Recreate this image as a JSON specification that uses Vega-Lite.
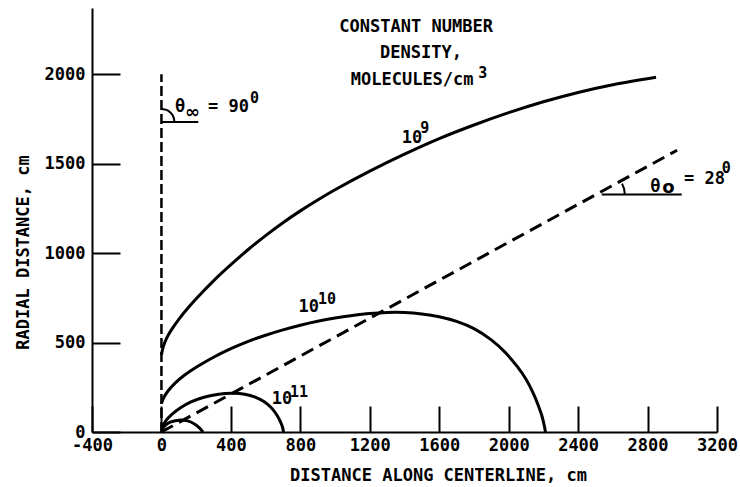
{
  "$schema": "https://vega.github.io/schema/vega-lite/v6.json",
  "width": 625,
  "height": 424,
  "autosize": {"type": "none"},
  "padding": {"left": 92, "top": 8, "right": 23, "bottom": 55},
  "background": "white",
  "config": {
    "view": {"stroke": null},
    "font": "DejaVu Sans Mono",
    "axis": {
      "grid": false,
      "domainColor": "black",
      "domainWidth": 2,
      "tickColor": "black",
      "tickWidth": 2,
      "labelColor": "black",
      "labelFont": "DejaVu Sans Mono",
      "labelFontSize": 17,
      "labelFontWeight": "bold",
      "titleFont": "DejaVu Sans Mono",
      "titleFontSize": 17,
      "titleFontWeight": "bold",
      "titleColor": "black"
    }
  },
  "datasets": {
    "curves": [
      {"s": "1e9", "i": 0, "x": 0, "y": 430},
      {"s": "1e9", "i": 1, "x": 10, "y": 475},
      {"s": "1e9", "i": 2, "x": 30, "y": 525},
      {"s": "1e9", "i": 3, "x": 60, "y": 575},
      {"s": "1e9", "i": 4, "x": 100, "y": 630},
      {"s": "1e9", "i": 5, "x": 150, "y": 690},
      {"s": "1e9", "i": 6, "x": 200, "y": 745},
      {"s": "1e9", "i": 7, "x": 300, "y": 845},
      {"s": "1e9", "i": 8, "x": 400, "y": 935},
      {"s": "1e9", "i": 9, "x": 500, "y": 1020},
      {"s": "1e9", "i": 10, "x": 600, "y": 1098},
      {"s": "1e9", "i": 11, "x": 700, "y": 1170},
      {"s": "1e9", "i": 12, "x": 800, "y": 1236},
      {"s": "1e9", "i": 13, "x": 900, "y": 1297},
      {"s": "1e9", "i": 14, "x": 1000, "y": 1354},
      {"s": "1e9", "i": 15, "x": 1200, "y": 1458},
      {"s": "1e9", "i": 16, "x": 1400, "y": 1553},
      {"s": "1e9", "i": 17, "x": 1600, "y": 1640},
      {"s": "1e9", "i": 18, "x": 1800, "y": 1716},
      {"s": "1e9", "i": 19, "x": 2000, "y": 1785},
      {"s": "1e9", "i": 20, "x": 2200, "y": 1846},
      {"s": "1e9", "i": 21, "x": 2400, "y": 1898},
      {"s": "1e9", "i": 22, "x": 2600, "y": 1941},
      {"s": "1e9", "i": 23, "x": 2849, "y": 1983},
      {"s": "1e10", "i": 0, "x": 0, "y": 160},
      {"s": "1e10", "i": 1, "x": 15, "y": 195},
      {"s": "1e10", "i": 2, "x": 40, "y": 232},
      {"s": "1e10", "i": 3, "x": 80, "y": 275},
      {"s": "1e10", "i": 4, "x": 130, "y": 316},
      {"s": "1e10", "i": 5, "x": 200, "y": 362},
      {"s": "1e10", "i": 6, "x": 300, "y": 418},
      {"s": "1e10", "i": 7, "x": 400, "y": 466},
      {"s": "1e10", "i": 8, "x": 500, "y": 507},
      {"s": "1e10", "i": 9, "x": 600, "y": 541},
      {"s": "1e10", "i": 10, "x": 700, "y": 571},
      {"s": "1e10", "i": 11, "x": 800, "y": 597},
      {"s": "1e10", "i": 12, "x": 900, "y": 619},
      {"s": "1e10", "i": 13, "x": 1000, "y": 637},
      {"s": "1e10", "i": 14, "x": 1100, "y": 651},
      {"s": "1e10", "i": 15, "x": 1200, "y": 662},
      {"s": "1e10", "i": 16, "x": 1300, "y": 668},
      {"s": "1e10", "i": 17, "x": 1400, "y": 668},
      {"s": "1e10", "i": 18, "x": 1500, "y": 660},
      {"s": "1e10", "i": 19, "x": 1600, "y": 644},
      {"s": "1e10", "i": 20, "x": 1700, "y": 618},
      {"s": "1e10", "i": 21, "x": 1800, "y": 578},
      {"s": "1e10", "i": 22, "x": 1900, "y": 515},
      {"s": "1e10", "i": 23, "x": 1980, "y": 445},
      {"s": "1e10", "i": 24, "x": 2050, "y": 365},
      {"s": "1e10", "i": 25, "x": 2100, "y": 295},
      {"s": "1e10", "i": 26, "x": 2140, "y": 220},
      {"s": "1e10", "i": 27, "x": 2170, "y": 150},
      {"s": "1e10", "i": 28, "x": 2190, "y": 95},
      {"s": "1e10", "i": 29, "x": 2203, "y": 45},
      {"s": "1e10", "i": 30, "x": 2212, "y": 0},
      {"s": "1e11", "i": 0, "x": 0, "y": 20},
      {"s": "1e11", "i": 1, "x": 25, "y": 62},
      {"s": "1e11", "i": 2, "x": 60, "y": 98},
      {"s": "1e11", "i": 3, "x": 110, "y": 135},
      {"s": "1e11", "i": 4, "x": 170, "y": 168},
      {"s": "1e11", "i": 5, "x": 240, "y": 193},
      {"s": "1e11", "i": 6, "x": 320, "y": 210},
      {"s": "1e11", "i": 7, "x": 414, "y": 216},
      {"s": "1e11", "i": 8, "x": 480, "y": 211},
      {"s": "1e11", "i": 9, "x": 540, "y": 195},
      {"s": "1e11", "i": 10, "x": 590, "y": 170},
      {"s": "1e11", "i": 11, "x": 630, "y": 138},
      {"s": "1e11", "i": 12, "x": 660, "y": 102},
      {"s": "1e11", "i": 13, "x": 685, "y": 58},
      {"s": "1e11", "i": 14, "x": 698, "y": 25},
      {"s": "1e11", "i": 15, "x": 703, "y": 0},
      {"s": "1e12", "i": 0, "x": 0, "y": 5},
      {"s": "1e12", "i": 1, "x": 20, "y": 35},
      {"s": "1e12", "i": 2, "x": 50, "y": 55},
      {"s": "1e12", "i": 3, "x": 100, "y": 66},
      {"s": "1e12", "i": 4, "x": 150, "y": 62},
      {"s": "1e12", "i": 5, "x": 190, "y": 45},
      {"s": "1e12", "i": 6, "x": 220, "y": 22},
      {"s": "1e12", "i": 7, "x": 235, "y": 5},
      {"s": "1e12", "i": 8, "x": 240, "y": 0}
    ],
    "vdash": [
      {"i": 0, "x": 0, "y": 0},
      {"i": 1, "x": 0, "y": 2000}
    ],
    "ddash": [
      {"i": 0, "x": 0, "y": 0},
      {"i": 1, "x": 2970, "y": 1575}
    ],
    "guides": [
      {"g": "h1", "i": 0, "x": 0, "y": 1733},
      {"g": "h1", "i": 1, "x": 212, "y": 1733},
      {"g": "a1", "i": 0, "x": 0, "y": 1806},
      {"g": "a1", "i": 1, "x": 20, "y": 1803},
      {"g": "a1", "i": 2, "x": 38, "y": 1796},
      {"g": "a1", "i": 3, "x": 53, "y": 1785},
      {"g": "a1", "i": 4, "x": 65, "y": 1770},
      {"g": "a1", "i": 5, "x": 72, "y": 1752},
      {"g": "a1", "i": 6, "x": 75, "y": 1733},
      {"g": "h2", "i": 0, "x": 2536, "y": 1328},
      {"g": "h2", "i": 1, "x": 2997, "y": 1328},
      {"g": "a2", "i": 0, "x": 2669, "y": 1328},
      {"g": "a2", "i": 1, "x": 2665, "y": 1359},
      {"g": "a2", "i": 2, "x": 2653, "y": 1388}
    ],
    "titleText": [
      {"x": 1467, "y": 2235, "t": "CONSTANT NUMBER"},
      {"x": 1495, "y": 2089, "t": "DENSITY,"},
      {"x": 1444, "y": 1939, "t": "MOLECULES/cm"}
    ],
    "mainText": [
      {"x": 1384, "y": 1616, "t": "10"},
      {"x": 789, "y": 669, "t": "10"},
      {"x": 636, "y": 156, "t": "10"},
      {"x": 78, "y": 1789, "t": "θ"},
      {"x": 268, "y": 1789, "t": "= 90"},
      {"x": 2815, "y": 1342, "t": "θ"},
      {"x": 3010, "y": 1389, "t": "= 28"}
    ],
    "supText": [
      {"x": 1825, "y": 1978, "t": "3"},
      {"x": 1490, "y": 1670, "t": "9"},
      {"x": 902, "y": 715, "t": "10"},
      {"x": 741, "y": 197, "t": "11"},
      {"x": 510, "y": 1838, "t": "0"},
      {"x": 3228, "y": 1447, "t": "0"}
    ],
    "subText": [
      {"x": 136, "y": 1754, "t": "∞"},
      {"x": 2884, "y": 1334, "t": "o"}
    ]
  },
  "encoding": {
    "x": {
      "field": "x",
      "type": "quantitative",
      "scale": {"domain": [-400, 3200], "nice": false, "zero": false},
      "axis": {
        "values": [-400, 0, 400, 800, 1200, 1600, 2000, 2400, 2800, 3200],
        "format": "d",
        "tickSize": -26,
        "labelPadding": 31,
        "labelExpr": "replace(datum.label, '−', '-')",
        "labelFlush": false,
        "labelOverlap": false,
        "title": "DISTANCE ALONG CENTERLINE, cm",
        "titleX": 346,
        "titleY": 48,
        "titleBaseline": "alphabetic"
      }
    },
    "y": {
      "field": "y",
      "type": "quantitative",
      "scale": {"domain": [0, 2370], "nice": false, "zero": false},
      "axis": {
        "values": [0, 500, 1000, 1500, 2000],
        "format": "d",
        "tickSize": -28,
        "labelPadding": 35,
        "labelFlush": false,
        "labelOverlap": false,
        "title": "RADIAL DISTANCE, cm",
        "titleX": -64,
        "titleY": 244,
        "titleBaseline": "alphabetic",
        "titleAngle": -90
      }
    }
  },
  "layer": [
    {
      "data": {"name": "curves"},
      "mark": {"type": "line", "interpolate": "catmull-rom", "strokeWidth": 3, "color": "black"},
      "encoding": {"detail": {"field": "s"}, "order": {"field": "i"}}
    },
    {
      "data": {"name": "vdash"},
      "mark": {"type": "line", "strokeWidth": 2.5, "strokeDash": [10, 4], "color": "black"},
      "encoding": {"order": {"field": "i"}}
    },
    {
      "data": {"name": "ddash"},
      "mark": {"type": "line", "strokeWidth": 3, "strokeDash": [13, 7], "color": "black"},
      "encoding": {"order": {"field": "i"}}
    },
    {
      "data": {"name": "guides"},
      "mark": {"type": "line", "strokeWidth": 2, "color": "black"},
      "encoding": {"detail": {"field": "g"}, "order": {"field": "i"}}
    },
    {
      "data": {"name": "titleText"},
      "mark": {"type": "text", "fontSize": 17, "fontWeight": "bold", "align": "center", "baseline": "alphabetic", "color": "black", "font": "DejaVu Sans Mono"},
      "encoding": {"text": {"field": "t"}}
    },
    {
      "data": {"name": "mainText"},
      "mark": {"type": "text", "fontSize": 17, "fontWeight": "bold", "align": "left", "baseline": "alphabetic", "color": "black", "font": "DejaVu Sans Mono"},
      "encoding": {"text": {"field": "t"}}
    },
    {
      "data": {"name": "supText"},
      "mark": {"type": "text", "fontSize": 15, "fontWeight": "bold", "align": "left", "baseline": "alphabetic", "color": "black", "font": "DejaVu Sans Mono"},
      "encoding": {"text": {"field": "t"}}
    },
    {
      "data": {"name": "subText"},
      "mark": {"type": "text", "fontSize": 18, "fontWeight": "bold", "align": "left", "baseline": "alphabetic", "color": "black", "font": "DejaVu Sans"},
      "encoding": {"text": {"field": "t"}}
    }
  ]
}
